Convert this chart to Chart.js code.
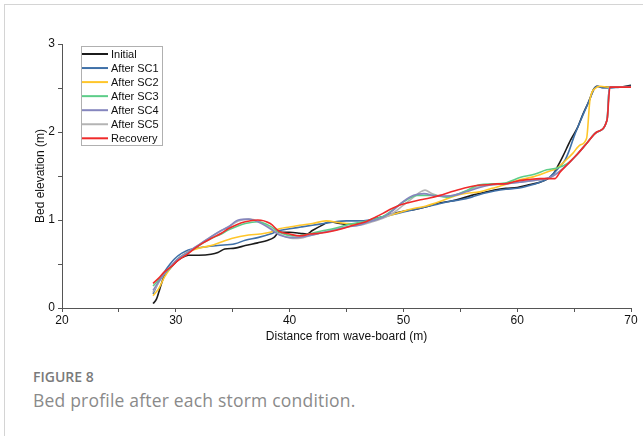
<!DOCTYPE html>
<html>
<head>
<meta charset="utf-8">
<script src="https://cdn.jsdelivr.net/npm/chart.js@4"></script>
<style>
  body { margin: 0; background: #fff; }
  #frame { position: absolute; left: 4px; top: 4px; width: 660px; height: 440px;
           border-left: 1px solid #d4d4d4; border-top: 1px solid #d4d4d4; }
  #plotBox { position: absolute; left: 0; top: 0; width: 643px; height: 350px; }
  .figno { position: absolute; left: 33px; top: 367px; font-family: "Open Sans", sans-serif;
           font-weight: 600; font-size: 14px; color: #7a7a7a; }
  .caption { position: absolute; left: 33px; top: 388px; font-family: "Open Sans", sans-serif;
             font-size: 17.5px; color: #8a8a8a; letter-spacing: 0.2px; }
</style>
</head>
<body>
<div id="frame"></div>
<div id="plotBox"><canvas id="bedChart" width="643" height="350"></canvas></div>
<div class="figno">FIGURE 8</div>
<div class="caption">Bed profile after each storm condition.</div>
<script>
// bed profiles, [distance (m), elevation (m)]
const initial = [[28,0.05],[28.3,0.10],[28.6,0.22],[29,0.37],[29.5,0.45],[30,0.52],[30.5,0.57],[31.1,0.60],[32,0.60],[33.1,0.61],[33.7,0.63],[34.3,0.67],[35.2,0.68],[36.1,0.71],[37.2,0.74],[38.1,0.77],[38.6,0.80],[39.1,0.86],[40,0.86],[40.9,0.85],[41.5,0.84],[42,0.88],[43,0.95],[43.5,0.98],[44.4,0.96],[45,0.95],[46,0.96],[47,0.99],[48,1.03],[49,1.07],[50,1.10],[51,1.12],[52,1.15],[53,1.19],[54,1.21],[55,1.24],[56,1.28],[57,1.31],[58,1.34],[59,1.36],[60,1.37],[61,1.40],[62,1.43],[62.7,1.47],[63.2,1.53],[63.6,1.62],[64,1.72],[64.7,1.91],[65.3,2.05],[65.8,2.21],[66.3,2.35],[66.7,2.48],[67,2.52],[67.5,2.51],[68,2.51],[69,2.51],[70,2.53]];
const sc1 = [[28,0.16],[28.5,0.30],[29,0.41],[29.5,0.50],[29.9,0.56],[30.5,0.62],[31.1,0.66],[32.3,0.69],[33.7,0.71],[35.2,0.73],[36.1,0.77],[37.2,0.80],[38.3,0.84],[39.1,0.88],[40,0.90],[41,0.92],[42,0.94],[43,0.96],[44,0.98],[45,0.99],[46,0.99],[47,1.0],[48,1.03],[49,1.06],[50,1.09],[51,1.12],[52,1.15],[53,1.18],[54,1.21],[55,1.23],[56,1.26],[57,1.30],[58,1.33],[59,1.35],[60,1.36],[61,1.39],[62,1.43],[62.7,1.47],[63.2,1.53],[63.7,1.60],[64.2,1.68],[64.6,1.80],[65,1.95],[65.8,2.2],[66.4,2.38],[66.8,2.5],[67.1,2.52],[67.5,2.50],[68,2.50],[69,2.51],[70,2.52]];
const sc2 = [[28,0.14],[28.5,0.22],[29,0.35],[29.5,0.45],[29.9,0.52],[30.5,0.59],[31.1,0.64],[32,0.68],[33.1,0.71],[34,0.75],[34.9,0.79],[36.4,0.83],[37.4,0.84],[38.3,0.86],[39.1,0.90],[40,0.92],[40.9,0.94],[42,0.96],[43.2,0.99],[44.4,0.97],[45,0.96],[46.1,0.95],[47,0.98],[48,1.02],[49,1.06],[50,1.10],[50.9,1.13],[52,1.16],[53.2,1.21],[54.2,1.26],[55.3,1.30],[56.7,1.32],[57.8,1.36],[58.9,1.40],[60,1.45],[61.4,1.49],[62.5,1.54],[63.5,1.59],[64.2,1.67],[64.9,1.76],[65.5,1.85],[66.1,1.93],[66.4,2.37],[66.9,2.50],[67.3,2.52],[68,2.51],[69,2.51],[70,2.51]];
const sc3 = [[28,0.25],[28.5,0.32],[29,0.39],[29.6,0.47],[30.2,0.56],[31,0.62],[31.7,0.68],[32.4,0.74],[33.1,0.79],[34,0.84],[34.6,0.885],[35.4,0.93],[36.1,0.96],[37.2,0.98],[38.3,0.93],[39.1,0.86],[40.3,0.82],[41.2,0.83],[42,0.85],[43,0.88],[43.8,0.90],[45.2,0.95],[46.5,0.98],[48.2,1.04],[48.8,1.09],[49.5,1.16],[50.3,1.23],[51.2,1.28],[52.6,1.28],[53.8,1.26],[55.3,1.32],[56.7,1.40],[57.8,1.41],[58.9,1.42],[60.3,1.485],[61.5,1.52],[62.6,1.57],[63.5,1.59],[64.4,1.64],[65.3,1.75],[66.1,1.87],[67,2.0],[67.9,2.14],[68.1,2.51],[69,2.51],[70,2.51]];
const sc4 = [[28,0.20],[28.5,0.30],[29,0.39],[29.6,0.48],[30.2,0.56],[31,0.63],[31.7,0.69],[32.4,0.75],[33.1,0.81],[34,0.88],[34.6,0.92],[35.5,1.0],[36.4,1.01],[37.2,0.98],[38.3,0.90],[39.1,0.83],[40.3,0.80],[41.2,0.81],[42,0.83],[43,0.86],[43.8,0.88],[45,0.92],[46.1,0.94],[47,0.98],[48.2,1.03],[49.1,1.11],[50,1.21],[50.9,1.28],[51.8,1.30],[53,1.27],[54.4,1.28],[55.5,1.32],[56.7,1.37],[57.8,1.40],[58.9,1.41],[60.3,1.43],[61.5,1.45],[62.5,1.47],[63,1.49],[63.7,1.55],[64.4,1.63],[65.3,1.75],[66.1,1.87],[67,2.0],[67.9,2.14],[68.1,2.51],[69,2.51],[70,2.51]];
const sc5 = [[28,0.18],[28.5,0.29],[29,0.39],[29.6,0.48],[30.2,0.56],[31,0.63],[31.7,0.69],[32.4,0.75],[33.1,0.81],[34,0.88],[34.6,0.92],[35.5,0.99],[36.4,1.01],[37.2,0.99],[38.3,0.91],[39.1,0.84],[40.3,0.79],[41.2,0.80],[42,0.83],[43,0.86],[43.8,0.89],[45,0.92],[46.1,0.94],[47,0.97],[48.2,1.02],[49.1,1.08],[50,1.17],[50.9,1.26],[51.5,1.32],[51.9,1.34],[52.5,1.30],[53.3,1.27],[54.4,1.28],[55.5,1.33],[56.7,1.38],[57.8,1.40],[58.9,1.41],[60.3,1.43],[61.5,1.45],[62.5,1.47],[63,1.49],[63.7,1.55],[64.4,1.63],[65.3,1.75],[66.1,1.87],[67,2.0],[67.9,2.14],[68.1,2.51],[69,2.51],[70,2.51]];
const recovery = [[28,0.28],[28.5,0.34],[29,0.41],[29.6,0.47],[30.2,0.54],[31,0.61],[31.7,0.68],[32.4,0.74],[33.1,0.79],[34,0.85],[34.6,0.90],[35.4,0.95],[36.1,0.98],[37.2,1.0],[38.3,0.96],[39.1,0.87],[40,0.84],[40.9,0.82],[41.8,0.84],[42.6,0.85],[43.6,0.87],[44.6,0.90],[45.6,0.94],[46.7,0.98],[47.5,1.03],[48.2,1.075],[49,1.13],[49.7,1.17],[50.5,1.20],[51.5,1.23],[52.3,1.25],[53.2,1.28],[54.2,1.32],[55.3,1.36],[56.3,1.39],[57.3,1.40],[58.2,1.41],[58.9,1.41],[59.6,1.43],[60.3,1.45],[61,1.46],[62,1.47],[63.3,1.47],[63.8,1.55],[64.4,1.63],[65.3,1.75],[66.1,1.87],[67,2.0],[67.9,2.14],[68.15,2.51],[69,2.51],[70,2.51]];

const seriesNames = ['Initial', 'After SC1', 'After SC2', 'After SC3', 'After SC4', 'After SC5', 'Recovery'];
const seriesData = [initial, sc1, sc2, sc3, sc4, sc5, recovery];
const seriesColors = ['#1b1b1b', '#3f70a8', '#ffc62a', '#5ccd88', '#8586be', '#b4b4b4', '#f02a2a'];
const drawOrder = [5, 4, 3, 2, 1, 2, 0];

const xTicks = [20, 30, 40, 50, 60, 70];
const yTicks = [0, 1, 2, 3];

const axisColor = '#555';
const fontFam = "'Liberation Sans', Arial, sans-serif";

// legend box drawn inside the plot
const boxLegend = {
    id: 'boxLegend',
    afterDraw(chart) {
        const ctx = chart.ctx;
        const x0 = 81, y0 = 46, w = 81, h = 99;
        ctx.save();
        ctx.fillStyle = '#fff';
        ctx.fillRect(x0, y0, w, h);
        ctx.strokeStyle = '#b0b0b0';
        ctx.lineWidth = 1;
        ctx.strokeRect(x0 + 0.5, y0 + 0.5, w, h);
        ctx.font = '11px ' + fontFam;
        ctx.textBaseline = 'middle';
        chart.data.datasets.forEach((ds, i) => {
            const y = 54 + i * 14.05;
            ctx.strokeStyle = ds.borderColor;
            ctx.lineWidth = 2;
            ctx.beginPath();
            ctx.moveTo(82, y);
            ctx.lineTo(108, y);
            ctx.stroke();
            ctx.fillStyle = '#111';
            ctx.fillText(ds.label, 111, y + 0.5);
        });
        ctx.restore();
    }
};

const datasets = seriesNames.map((name, i) => ({
    label: name,
    data: seriesData[i].map(p => ({x: p[0], y: p[1]})),
    borderColor: seriesColors[i],
    borderWidth: 1.6,
    pointRadius: 0,
    cubicInterpolationMode: 'monotone',
    order: drawOrder[i],
    fill: false
}));

new Chart('bedChart', {
    type: 'line',
    data: { datasets },
    options: {
        responsive: false,
        animation: false,
        layout: { padding: { left: 0, right: 12, top: 44, bottom: 0 } },
        plugins: { legend: { display: false }, tooltip: { enabled: false } },
        scales: {
            x: {
                type: 'linear',
                min: 20, max: 70,
                afterFit: s => { s.height = 42; },
                border: { color: axisColor, width: 1 },
                grid: { drawOnChartArea: false, drawTicks: true, tickLength: 4, color: axisColor },
                ticks: {
                    stepSize: 5, padding: 1, color: '#111', maxRotation: 0,
                    font: { size: 12, family: fontFam },
                    callback: v => xTicks.includes(v) ? v : ''
                },
                title: {
                    display: true, text: 'Distance from wave-board (m)', color: '#111',
                    font: { size: 12, family: fontFam }, padding: { top: 0, bottom: 6 }
                }
            },
            y: {
                min: 0, max: 3,
                afterFit: s => { s.width = 62; },
                border: { color: axisColor, width: 1 },
                grid: { drawOnChartArea: false, drawTicks: true, tickLength: 4, color: axisColor },
                ticks: {
                    stepSize: 0.5, padding: 3, color: '#111',
                    font: { size: 12, family: fontFam },
                    callback: v => yTicks.includes(v) ? v : ''
                },
                title: {
                    display: true, text: 'Bed elevation (m)', color: '#111',
                    font: { size: 12, family: fontFam }, padding: { top: 33, bottom: 0 }
                }
            }
        }
    },
    plugins: [boxLegend]
});
</script>
</body>
</html>
